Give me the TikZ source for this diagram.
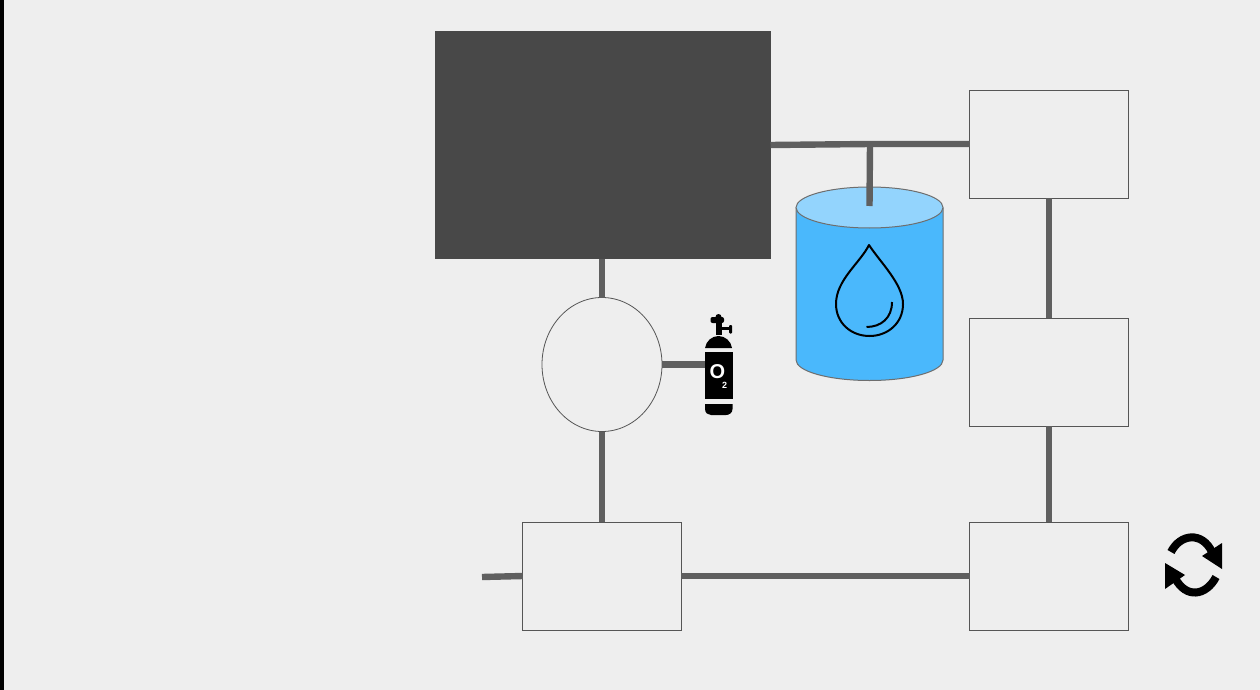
\documentclass[tikz,border=0pt]{standalone}
\usepackage{fontspec}
\setmainfont{Liberation Sans}
\definecolor{bgc}{HTML}{EEEEEE}
\definecolor{darkc}{HTML}{484848}
\definecolor{pipec}{HTML}{5F5F5F}
\definecolor{edgec}{HTML}{555555}
\definecolor{waterc}{HTML}{4AB8FC}
\definecolor{surfc}{HTML}{93D4FD}
\tikzset{
  procbox/.style={draw=edgec,line width=0.8pt,fill=bgc,minimum width=158.5pt,minimum height=108pt,inner sep=0pt,outer sep=0pt},
  darkbox/.style={fill=darkc,minimum width=335.5pt,minimum height=228pt,inner sep=0pt,outer sep=0pt},
  vessel/.style={draw=edgec,line width=0.8pt,ellipse,fill=bgc,minimum width=120pt,minimum height=134pt,inner sep=0pt,outer sep=0pt},
  pipe/.style={draw=pipec,line width=6.4pt},
  ico/.style={fill=black,draw=none},
  cylline/.style={draw=edgec!85!white,line width=1pt},
}
\usetikzlibrary{shapes.geometric}
\begin{document}
\begin{tikzpicture}[x=1pt,y=-1pt]
\useasboundingbox (0,0) rectangle (1260,690);
\fill[bgc] (0,0) rectangle (1260,690);
\fill[black] (0,0) rectangle (4,690);
% nodes
\node[darkbox] (reactor) at (602.75,145) {};
\node[vessel] (aer) at (602,364.5) {};
\node[procbox] (b1) at (602,576) {};
\node[procbox] (b2) at (1049,576) {};
\node[procbox] (b3) at (1049,372) {};
\node[procbox] (b4) at (1049,144) {};
\coordinate (inlet) at (482,577);
\coordinate (tee) at (870,144);
\coordinate (dip) at (869.5,206);
\node[inner sep=0pt,outer sep=0pt,minimum width=1pt,minimum height=1pt] (tankport) at (705,364.5) {};
% cylinder
\path[fill=waterc,cylline] (796,207.5) -- (796,360) arc[start angle=180,end angle=0,x radius=73.5,y radius=20.5] -- (943,207.5);
\path[fill=surfc,cylline] (869.5,207.5) ellipse[x radius=73.5,y radius=20.5];
% connectors
\draw[pipe] (reactor.east |- 0,145) -- (tee) -- (b4.west);
\draw[pipe] (tee) -- (dip);
\draw[pipe] (reactor.south -| aer.north) -- (aer.north);
\draw[pipe] (aer.south) -- (b1.north);
\draw[pipe] (aer.east) -- (tankport);
\draw[pipe] (inlet) -- (b1.west |- 0,576);
\draw[pipe] (b1.east) -- (b2.west);
\draw[pipe] (b2.north) -- (b3.south);
\draw[pipe] (b3.north) -- (b4.south);
% drop
\draw[black,line width=2pt,line join=round] (869,245)
  .. controls (860,263) and (836,280) .. (836,304)
  .. controls (836,323) and (851,336) .. (869.5,336)
  .. controls (888,336) and (903,323) .. (903,304)
  .. controls (903,284) and (880,262) .. (869,245) -- cycle;
\draw[black,line width=2pt] (866.5,327) .. controls (881,327) and (892,318) .. (892,302);
% oxygen bottle
\fill[ico] (705,348) .. controls (706,341) and (712,336) .. (718.5,336) .. controls (725,336) and (731,341) .. (732,348) -- cycle;
\fill[ico] (705,352) rectangle (732.5,399);
\fill[ico] (705,404) -- (732.5,404) -- (732.5,409) .. controls (732.5,413) and (729,415) .. (726,415) -- (711,415) .. controls (708,415) and (705,413) .. (705,409) -- cycle;
\fill[ico] (716,318) rectangle (722,335);
\fill[ico,rounded corners=2pt] (710.5,317) rectangle (724,323);
\fill[ico] (718.5,317) circle (3);
\fill[ico] (722,326.5) rectangle (730,329.5);
\fill[ico,rounded corners=1pt] (729,325) rectangle (732,333.5);
\node[text=white,font=\bfseries\fontsize{20}{20}\selectfont,inner sep=0pt] (otext) at (717.5,372) {O};
\node[text=white,font=\bfseries\fontsize{9}{9}\selectfont,inner sep=0pt] (twotext) at (724.5,385.5) {2};
% recycle icon
\draw[black,line width=8pt] (1171,552) .. controls (1180,534) and (1202,531) .. (1212,552);
\fill[ico] (1222,543) -- (1222,569) -- (1202,556) -- cycle;
\draw[black,line width=8pt] (1216,577) .. controls (1206,596) and (1186,599) .. (1175,578);
\fill[ico] (1165,563) -- (1165,589) -- (1185,575) -- cycle;
\end{tikzpicture}
\end{document}
